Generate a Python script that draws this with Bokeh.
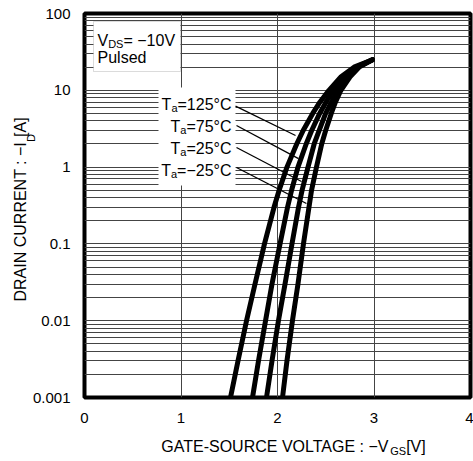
import math
from bokeh.plotting import figure
from bokeh.models import FixedTicker, Label, BoxAnnotation, Range1d, LinearAxis, LogAxis
from bokeh.embed import file_html
from bokeh.resources import INLINE

# ---------------- data ----------------
drain_current = [0.001, 0.003, 0.01, 0.03, 0.1, 0.3, 0.5, 1, 2, 3, 5, 7, 10, 15, 20, 25]
vgs_125 = [1.513, 1.591, 1.679, 1.767, 1.865, 1.964, 2.017, 2.098, 2.199, 2.266, 2.365, 2.439, 2.533, 2.659, 2.793, 2.984]
vgs_75 = [1.741, 1.803, 1.876, 1.943, 2.026, 2.104, 2.146, 2.212, 2.297, 2.354, 2.437, 2.502, 2.579, 2.695, 2.813, 2.984]
vgs_25 = [1.886, 1.943, 2.010, 2.078, 2.150, 2.218, 2.255, 2.316, 2.380, 2.432, 2.499, 2.559, 2.621, 2.726, 2.829, 2.984]
vgs_m25 = [2.052, 2.098, 2.155, 2.212, 2.269, 2.326, 2.353, 2.404, 2.458, 2.499, 2.557, 2.600, 2.657, 2.752, 2.845, 2.984]

temp_labels = ["125", "75", "25", "\u221225"]
# leader lines: label end (x, I) -> curve point (x, I)
leader_x0 = [1.565, 1.575, 1.575, 1.575]
leader_y0 = [6.21, 3.48, 1.80, 0.989]
leader_x1 = [2.187, 2.218, 2.249, 2.300]
leader_y1 = [2.58, 1.29, 0.649, 0.336]

x_ticks = [0, 1, 2, 3, 4]
y_ticks = [0.001, 0.01, 0.1, 1, 10, 100]
y_tick_labels = ["0.001", "0.01", "0.1", "1", "10", "100"]

x_title = ["GATE-SOURCE VOLTAGE : \u2212V", "GS", "[V]"]
y_title = ["DRAIN CURRENT : \u2212I", "D", "[A]"]

FONT = "Liberation Sans"
W = {'G': .778, 'A': .667, 'T': .611, 'E': .667, '-': .333, 'S': .667, 'O': .778, 'U': .722,
     'R': .722, 'C': .722, ' ': .278, 'V': .667, 'L': .556, ':': .278, '\u2212': .584, '[': .278,
     ']': .278, 'D': .722, 'I': .278, 'N': .722, 'P': .667, 'u': .556, 'l': .222, 's': .5,
     'e': .556, 'd': .556, '=': .584, '\u00b0': .4, 'a': .556}


def tw(s, size):
    return sum(W.get(c, .556) for c in s) * size


# frame geometry in canvas pixels
FL, FR, FT, FB = 84, 470, 13, 397
XMIN, XMAX, YMIN, YMAX = 0, 4, 0.001, 100


def dx(cx):  # canvas x -> data x
    return round(XMIN + (cx - FL) / (FR - FL) * (XMAX - XMIN), 6)


def dy(cy):  # canvas y -> data y (log)
    lo, hi = math.log10(YMIN), math.log10(YMAX)
    return float("%.6g" % 10 ** (hi - (cy - FT) / (FB - FT) * (hi - lo)))


p = figure(width=473, height=461, x_range=Range1d(XMIN, XMAX), y_range=Range1d(YMIN, YMAX),
           y_axis_type="log", output_backend="svg", toolbar_location=None,
           min_border_left=FL, min_border_right=473 - FR, min_border_top=FT,
           min_border_bottom=461 - FB)
p.background_fill_color = "white"
p.border_fill_color = "white"
p.outline_line_color = "black"
p.outline_line_width = 4


def style_axis(ax, size, standoff):
    ax.axis_line_color = None
    ax.major_tick_line_color = None
    ax.minor_tick_line_color = None
    ax.major_tick_out = 0
    ax.major_tick_in = 0
    ax.minor_tick_out = 0
    ax.minor_tick_in = 0
    ax.major_label_text_font = FONT
    ax.major_label_text_font_size = f"{size}px"
    ax.major_label_text_color = "black"
    ax.major_label_standoff = standoff


style_axis(p.xaxis[0], 15, 15)
style_axis(p.yaxis[0], 15, 14)
p.xaxis.ticker = FixedTicker(ticks=x_ticks)
p.yaxis.ticker = FixedTicker(ticks=y_ticks)
p.yaxis.major_label_overrides = {t: l for t, l in zip(y_ticks, y_tick_labels)}

# x axis title as label-only axes (so the subscript can be placed)
xs0 = 159
xc_main = xs0 + tw(x_title[0], 16) / 2
xc_sub = xs0 + tw(x_title[0], 16) + tw(x_title[1], 11) / 2
xc_tail = xs0 + tw(x_title[0], 16) + tw(x_title[1], 11) + tw(x_title[2], 16) / 2
t_main = [dx(xc_main), dx(xc_tail)]
ax_t1 = LinearAxis(ticker=FixedTicker(ticks=t_main),
                   major_label_overrides={t_main[0]: x_title[0], t_main[1]: x_title[2]})
style_axis(ax_t1, 16, 12)
p.add_layout(ax_t1, "below")
t_sub = [dx(xc_sub)]
ax_t2 = LinearAxis(ticker=FixedTicker(ticks=t_sub), major_label_overrides={t_sub[0]: x_title[1]})
style_axis(ax_t2, 11, -13)
p.add_layout(ax_t2, "below")

# y axis title: rotated labels are anchored at their upper end
ys0 = 301
y_top_main = ys0 - tw(y_title[0], 16)
y_top_sub = y_top_main - tw(y_title[1], 11)
y_top_tail = y_top_sub - tw(y_title[2], 16) + 3
ty_sub = [dy(y_top_sub)]
ax_t3 = LogAxis(ticker=FixedTicker(ticks=ty_sub), major_label_overrides={ty_sub[0]: y_title[1]})
style_axis(ax_t3, 11, -2)
ax_t3.major_label_orientation = math.pi / 2
p.add_layout(ax_t3, "left")
ty_main = [dy(y_top_main), dy(y_top_tail)]
ax_t4 = LogAxis(ticker=FixedTicker(ticks=ty_main),
                major_label_overrides={ty_main[0]: y_title[0], ty_main[1]: y_title[2]})
style_axis(ax_t4, 16, -4)
ax_t4.major_label_orientation = math.pi / 2
p.add_layout(ax_t4, "left")

# grid
p.xgrid.ticker = FixedTicker(ticks=x_ticks[1:-1])
p.xgrid.grid_line_color = "#444444"
p.xgrid.grid_line_width = 1
grid_y = [m * 10.0 ** e for e in range(-3, 2) for m in range(1, 10)][1:]
p.ygrid.ticker = FixedTicker(ticks=grid_y)
p.ygrid.grid_line_color = "#444444"
p.ygrid.grid_line_width = 1


def sx(cx):
    return cx - FL


def sy(cy):
    return FB - cy


# white backgrounds behind annotations
p.add_layout(BoxAnnotation(left=sx(158), right=sx(235), top=sy(87), bottom=sy(185),
                           left_units="screen", right_units="screen", top_units="screen",
                           bottom_units="screen", fill_color="white", fill_alpha=1,
                           line_color=None, level="underlay"))
p.add_layout(BoxAnnotation(left=sx(93), right=sx(180), top=sy(21), bottom=sy(71),
                           left_units="screen", right_units="screen", top_units="screen",
                           bottom_units="screen", fill_color="white", fill_alpha=1,
                           line_color="#888888", line_width=1, level="underlay"))

# curves
for xs in (vgs_125, vgs_75, vgs_25, vgs_m25):
    p.line(xs, drain_current, line_width=5, line_color="black", line_join="round",
           line_cap="round")

# leaders
p.segment(leader_x0, leader_y0, leader_x1, leader_y1, line_color="black", line_width=1.3)


def lab(x, y, text, size):
    p.add_layout(Label(x=x, y=y, x_units="screen", y_units="screen", text=text,
                       text_font=FONT, text_font_size=f"{size}px", text_color="black",
                       text_baseline="alphabetic", text_align="left"))


DY = 5  # baseline correction
# V_DS box text
x0 = 97
lab(sx(x0), sy(45 - DY), "V", 16)
x1 = x0 + tw("V", 16)
lab(sx(x1), sy(48 - DY), "DS", 11)
x2 = x1 + tw("DS", 11)
lab(sx(x2), sy(45 - DY), "= \u221210V", 16)
lab(sx(x0), sy(62 - DY), "Pulsed", 16)

# temperature labels (right edge at 231)
baselines = [109, 131, 153, 175]
for t, b in zip(temp_labels, baselines):
    tail = "=" + t + "\u00b0C"
    xe = 231 - tw(tail, 16)
    xa = xe - tw("a", 11)
    xt = xa - tw("T", 16)
    lab(sx(xt), sy(b - DY), "T", 16)
    lab(sx(xa), sy(b + 3 - DY), "a", 11)
    lab(sx(xe), sy(b - DY), tail, 16)

open("out.html", "w").write(file_html(p, INLINE))
